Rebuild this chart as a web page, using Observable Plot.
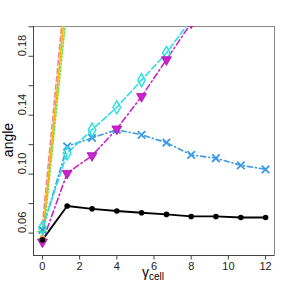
<!DOCTYPE html>
<html><head><meta charset="utf-8">
<script src="https://cdn.jsdelivr.net/npm/d3@7"></script>
<script src="https://cdn.jsdelivr.net/npm/@observablehq/plot@0.6"></script>
<style>body{margin:0;background:#fff;} #chart{width:288px;height:288px;}</style>
</head><body><div id="chart"></div>
<script>
const gamma = [0, 1.33, 2.67, 4, 5.33, 6.67, 8, 9.33, 10.67, 12];
const blackVals = [0.0554, 0.0784, 0.0765, 0.0750, 0.0738, 0.0727, 0.0713, 0.0713, 0.0706, 0.0706];
const blueVals = [0.0622, 0.1189, 0.1246, 0.1301, 0.1267, 0.1214, 0.1131, 0.1108, 0.1060, 0.1033];
const cyanVals = [0.0636, 0.1142, 0.1302, 0.1454, 0.1638, 0.1822, 0.2050];
const magentaVals = [0.0540, 0.1006, 0.1126, 0.1307, 0.1527, 0.1777, 0.2026];
const orangeVals = [0.0562, 0.2270];
const pinkVals = [0.0550, 0.2290];
const greenVals = [0.0610, 0.2240];
const xTicks = [0, 2, 4, 6, 8, 10, 12];
const yTicks = [0.06, 0.08, 0.10, 0.12, 0.14, 0.16, 0.18, 0.20];
const yLabels = ["0.06", "0.10", "0.14", "0.18"];

const xDom = [-0.48, 12.48];
const yDom = [0.0448, 0.2002];
const mk = (vals) => vals.map((v, i) => ({x: gamma[i], y: v}));

const black = mk(blackVals), blue = mk(blueVals), cyan = mk(cyanVals),
      magenta = mk(magentaVals), orange = mk(orangeVals), pink = mk(pinkVals), green = mk(greenVals);

const cBlue = "#3a9ae6", cCyan = "#2ee0e0", cMag = "#cc22cc", cOr = "#f5b400", cPink = "#f08a8a", cGreen = "#77dd44";

const plot = Plot.plot({
  width: 288, height: 288,
  marginLeft: 33, marginRight: 14, marginTop: 26, marginBottom: 33,
  style: {fontFamily: "Liberation Sans, Arial, sans-serif", background: "#fff"},
  x: {domain: xDom},
  y: {domain: yDom},
  marks: [
    Plot.frame({stroke: "#888"}),
    Plot.ruleX([xDom[0]], {stroke: "#444"}),
    Plot.ruleY([yDom[0]], {stroke: "#444"}),
    Plot.axisX({ticks: xTicks, tickSize: 4.5, tickPadding: 2, fontSize: 11, label: null, stroke: "#444", fill: "#222"}),
    Plot.axisY({ticks: yTicks, tickSize: 4.5, tickFormat: () => "", label: null, stroke: "#444"}),
    Plot.text(yLabels, {y: d => +d, text: d => d, frameAnchor: "left", dx: -11, rotate: -90, fontSize: 11, fill: "#222"}),
    Plot.line(green, {x: "x", y: "y", stroke: cGreen, strokeWidth: 1.6, strokeDasharray: "1.5,2", clip: true, dx: 1.5}),
    Plot.line(pink, {x: "x", y: "y", stroke: cPink, strokeWidth: 1.6, strokeDasharray: "5,3", clip: true, dx: -1.5}),
    Plot.line(orange, {x: "x", y: "y", stroke: cOr, strokeWidth: 1.6, clip: true}),
    Plot.line(black, {x: "x", y: "y", stroke: "#000", strokeWidth: 1.8, clip: true}),
    Plot.line(blue, {x: "x", y: "y", stroke: cBlue, strokeWidth: 1.6, strokeDasharray: "5,3,1,3", clip: true}),
    Plot.line(cyan, {x: "x", y: "y", stroke: cCyan, strokeWidth: 1.6, strokeDasharray: "6,3", clip: true}),
    Plot.line(magenta, {x: "x", y: "y", stroke: cMag, strokeWidth: 1.6, strokeDasharray: "6,3,1.5,3", clip: true}),
    Plot.dot(green.slice(0,1), {x: "x", y: "y", symbol: "plus", stroke: cGreen, r: 3.5, strokeWidth: 1.3}),
    Plot.dot(pink.slice(0,1), {x: "x", y: "y", symbol: "asterisk", stroke: cPink, r: 3.5, strokeWidth: 1.3}),
    Plot.dot(orange.slice(0,1), {x: "x", y: "y", symbol: "circle", fill: cOr, r: 3}),
    Plot.dot(blue, {x: "x", y: "y", symbol: "times", stroke: cBlue, r: 3.5, strokeWidth: 1.8, clip: true}),
    Plot.dot(cyan, {x: "x", y: "y", symbol: "diamond", stroke: cCyan, fill: "none", r: 4, strokeWidth: 1.5, clip: true}),
    Plot.dot(magenta, {x: "x", y: "y", symbol: "triangle", rotate: 180, fill: cMag, stroke: "#aa11aa", r: 3.7, strokeWidth: 0.8, clip: true}),
    Plot.dot(black, {x: "x", y: "y", symbol: "circle", fill: "#000", r: 2.8, clip: true})
  ]
});
document.getElementById("chart").appendChild(plot);

const svg = d3.select(plot);
svg.append("text")
  .attr("transform", "translate(13,140) rotate(-90)")
  .attr("text-anchor", "middle")
  .attr("font-family", "Liberation Sans, Arial, sans-serif")
  .attr("font-size", 14).attr("fill", "#000")
  .text("angle");
const xl = svg.append("text")
  .attr("x", 153).attr("y", 277)
  .attr("text-anchor", "middle")
  .attr("font-family", "Liberation Sans, Arial, sans-serif")
  .attr("fill", "#000");
xl.append("tspan").attr("font-size", 14).text("γ");
xl.append("tspan").attr("font-size", 10).attr("dy", 3).text("cell");
</script>
</body></html>
